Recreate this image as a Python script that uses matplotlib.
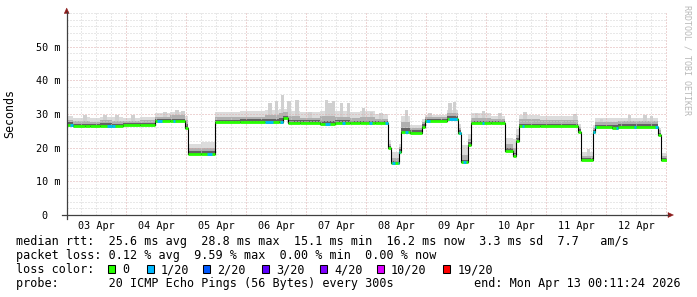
import numpy as np
import matplotlib
matplotlib.use('Agg')
import matplotlib.pyplot as plt
from matplotlib.patches import Polygon, Rectangle
from matplotlib.lines import Line2D

# ---------------- data (hours since 03 Apr 00:00, values in ms) ----------------
t_start, t_end = 0.19, 240.19
seg_start = [0.19, 2.8, 7.6, 9.6, 13.6, 18.4, 22.8, 29.6, 35.6, 41.6, 47.6, 48.8, 54.0,
             59.6, 69.6, 79.6, 85.2, 86.8, 88.8, 93.6, 101.6, 107.6, 113.6, 117.6, 123.6,
             128.8, 130.0, 133.2, 134.0, 137.6, 142.4, 143.6, 152.4, 156.8, 158.0, 160.8,
             162.0, 170.0, 175.6, 178.8, 180.0, 181.2, 189.6, 204.8, 206.0, 210.8, 211.6,
             218.4, 220.8, 236.8, 238.0]
median = [26.8, 26.4, 26.4, 26.4, 26.4, 26.4, 26.7, 26.7, 27.9, 27.9, 25.7, 18.2, 18.2,
          27.7, 27.7, 27.7, 27.7, 28.8, 27.4, 27.4, 27.0, 27.4, 27.4, 27.2, 27.2, 19.8,
          15.3, 18.8, 24.7, 24.5, 26.2, 28.0, 28.6, 24.3, 15.7, 20.8, 27.3, 27.3, 19.0,
          17.4, 22.1, 26.3, 26.3, 24.7, 16.4, 24.6, 26.2, 25.9, 26.2, 23.8, 16.3]
smoke_dark = [27.5, 27.1, 27.1, 27.1, 27.2, 27.1, 27.4, 27.4, 28.5, 28.6, 26.9, 18.9, 18.9,
              28.3, 28.4, 28.5, 28.7, 29.4, 28.2, 28.1, 27.9, 28.1, 28.0, 27.9, 27.8, 20.5,
              16.0, 19.7, 25.8, 25.1, 26.9, 28.6, 29.4, 25.1, 16.4, 21.6, 27.9, 27.9, 19.9,
              18.3, 22.9, 27.1, 26.9, 25.4, 16.9, 25.3, 26.8, 26.6, 26.9, 24.5, 16.9]
smoke_mid = [28.3, 27.8, 28.0, 27.7, 28.1, 27.9, 27.9, 28.1, 29.1, 29.6, 28.3, 19.8, 20.0,
             29.0, 29.2, 29.6, 30.2, 30.5, 29.4, 28.9, 29.4, 29.2, 28.7, 29.1, 28.5, 21.2,
             16.9, 20.3, 27.5, 25.7, 27.6, 29.0, 30.4, 25.9, 17.9, 22.6, 28.8, 28.5, 21.1,
             19.8, 23.8, 28.4, 28.1, 26.1, 17.5, 25.9, 27.6, 27.5, 27.8, 25.2, 17.5]
smoke_top = [29.5, 28.7, 29.2, 28.7, 29.2, 29.0, 28.8, 29.2, 30.2, 30.6, 29.5, 21.0, 21.6,
             30.5, 30.8, 31.2, 31.5, 31.5, 31.0, 30.6, 31.0, 31.0, 30.5, 31.0, 30.0, 22.3,
             18.8, 21.2, 29.5, 26.8, 28.5, 29.8, 31.2, 27.0, 20.8, 24.0, 30.2, 29.5, 23.0,
             22.5, 25.5, 29.8, 29.4, 27.0, 18.8, 26.6, 28.8, 28.8, 28.9, 25.8, 18.4]
spike_hour = [7.6, 15.6, 20.4, 26.8, 39.6, 44.4, 46.8, 81.6, 84.2, 86.6, 89.2, 92.4, 97.6,
              104.2, 105.6, 107.0, 110.2, 113.0, 119.0, 122.2, 126.0, 136.2, 145.6, 153.6,
              155.4, 164.2, 167.0, 173.6, 183.6, 203.6, 209.0, 214.2, 225.4, 231.6, 234.2]
spike_top = [29.7, 29.7, 29.6, 29.6, 30.7, 31.3, 30.8, 33.3, 33.8, 35.7, 33.8, 34.2, 30.6,
             34.2, 33.3, 33.8, 33.3, 33.3, 31.8, 30.6, 30.4, 31.2, 30.4, 33.2, 33.6, 30.2,
             30.9, 30.2, 30.7, 29.9, 19.5, 28.4, 29.6, 29.6, 29.4]
loss1_start = [1.6, 16.4, 36.4, 42.8, 56.4, 79.6, 85.6, 103.6, 110.4, 121.2, 127.6, 130.4,
               132.8, 135.6, 144.0, 153.2, 157.2, 158.8, 166.4, 182.4, 210.8, 220.0, 227.2, 235.6]
loss1_end = [2.7, 19.6, 38.4, 43.6, 58.4, 82.8, 86.6, 105.6, 111.6, 122.2, 128.8, 131.6,
             133.6, 136.8, 145.6, 156.4, 157.8, 160.0, 167.2, 183.2, 212.0, 220.8, 228.0, 236.8]

day_labels = ['03 Apr', '04 Apr', '05 Apr', '06 Apr', '07 Apr',
              '08 Apr', '09 Apr', '10 Apr', '11 Apr', '12 Apr']
ytick_vals = [0, 10, 20, 30, 40, 50]
ytick_labels = ['0', '10 m', '20 m', '30 m', '40 m', '50 m']

loss_labels = ['0', '1/20', '2/20', '3/20', '4/20', '10/20', '19/20']
loss_colors = ['#26ff00', '#00b8ff', '#0059ff', '#5e00ff', '#7e00ff', '#dd00ff', '#ff0000']

line1 = "median rtt:  25.6 ms avg  28.8 ms max  15.1 ms min  16.2 ms now  3.3 ms sd  7.7   am/s"
line2 = "packet loss: 0.12 % avg  9.59 % max  0.00 % min  0.00 % now"
line3 = "loss color:"
line4 = "probe:       20 ICMP Echo Pings (56 Bytes) every 300s"
end_text = "end: Mon Apr 13 00:11:24 2026"

# ---------------- figure ----------------
W, H = 697, 297
fig = plt.figure(figsize=(W / 100, H / 100), dpi=100)
fig.patch.set_facecolor('white')
MONO = 'DejaVu Sans Mono'

L, R, B, T = 66.5, 666.5, 215.0, 13.0
ax = fig.add_axes([L / W, 1 - B / H, (R - L) / W, (B - T) / H])
ax.set_facecolor('white')
ax.set_xlim(t_start, t_end)
ax.set_ylim(0, 60)
for s in ax.spines.values():
    s.set_visible(False)


def fp(x, y):
    return (x / W, 1 - y / H)


# grid (drawn over the smoke, as rrdtool does)
minor_c = '#d2d2d2'
major_c = '#dcaaaa'
dot = (0, (1, 2))
for v in range(2, 61, 2):
    c = major_c if (v % 10 == 0 and v < 60) else minor_c
    ax.axhline(v, color=c, lw=0.72, ls=dot, zorder=3)
for h in range(6, 241, 6):
    c = major_c if h % 24 == 0 else minor_c
    ax.axvline(h, color=c, lw=0.72, ls=dot, zorder=3)

# smoke and median
seg_start_a = np.array(seg_start)
median_a = np.array(median)
xs = np.append(seg_start_a, t_end)
med_e = np.append(median_a, median_a[-1])
ax.fill_between(xs, med_e, np.append(smoke_top, smoke_top[-1]), step='post',
                color='#dcdcdc', lw=0, zorder=2)
spike_base = median_a[np.searchsorted(seg_start_a, spike_hour, side='right') - 1]
ax.bar(spike_hour, np.array(spike_top) - spike_base, bottom=spike_base, width=1.3,
       color='#d0d0d0', lw=0, zorder=2)
ax.fill_between(xs, med_e, np.append(smoke_mid, smoke_mid[-1]), step='post',
                color='#b0b0b0', lw=0, zorder=2)
ax.fill_between(xs, med_e, np.append(smoke_dark, smoke_dark[-1]), step='post',
                color='#626262', lw=0, zorder=2)
ax.step(xs, med_e, where='post', color='black', lw=0.8, zorder=4)

seg_end = np.append(seg_start_a[1:], t_end)
ax.hlines(median_a, seg_start_a, seg_end, color=loss_colors[0], lw=2.0,
          capstyle='butt', zorder=5)
for a, b in zip(loss1_start, loss1_end):
    for s0, s1, m in zip(seg_start_a, seg_end, median_a):
        lo, hi = max(a, s0), min(b, s1)
        if hi > lo:
            ax.hlines(m, lo, hi, color=loss_colors[1], lw=2.0, capstyle='butt', zorder=6)

# ticks
ax.set_xticks([12 + 24 * k for k in range(len(day_labels))])
ax.set_xticklabels(day_labels, fontfamily=MONO, fontsize=7.3)
ax.set_yticks(ytick_vals)
ax.set_yticklabels(ytick_labels, fontfamily=MONO, fontsize=7.3)
ax.tick_params(axis='both', length=0)
ax.tick_params(axis='x', pad=4.0)
ax.tick_params(axis='y', pad=4.6)
ax.yaxis.get_major_ticks()[0].set_pad(13.6)

# axis lines and arrows
axis_c = '#404040'
arrow_c = '#8b1a1a'
fig.add_artist(Line2D([fp(L, 0)[0], fp(L, 0)[0]], [fp(0, 219)[1], fp(0, 12)[1]],
                      color=axis_c, lw=0.9))
fig.add_artist(Line2D([fp(62, 0)[0], fp(668, 0)[0]], [fp(0, B)[1], fp(0, B)[1]],
                      color=axis_c, lw=0.9))
fig.add_artist(Polygon([fp(64.2, 13.5), fp(69.2, 13.5), fp(66.7, 8.0)], closed=True,
                       facecolor=arrow_c, edgecolor=arrow_c, lw=0.3))
fig.add_artist(Polygon([fp(668, 212.5), fp(668, 217.5), fp(673.5, 215)], closed=True,
                       facecolor=arrow_c, edgecolor=arrow_c, lw=0.3))

# labels
fig.text(*fp(10, 114), 'Seconds', rotation=90, ha='center', va='center',
         fontfamily=MONO, fontsize=8.4)
fig.text(*fp(687.5, 5), 'RRDTOOL / TOBI OETIKER', rotation=270, ha='center', va='top',
         fontfamily=MONO, fontsize=6.0, color='#b8b8b8')

# legend
fs = 8.5
fig.text(*fp(15.5, 245.3), line1, fontfamily=MONO, fontsize=fs, va='baseline')
fig.text(*fp(15.5, 259.3), line2, fontfamily=MONO, fontsize=fs, va='baseline')
fig.text(*fp(15.5, 273.3), line3, fontfamily=MONO, fontsize=fs, va='baseline')
fig.text(*fp(15.5, 287.3), line4, fontfamily=MONO, fontsize=fs, va='baseline')
fig.text(*fp(681, 287.3), end_text, fontfamily=MONO, fontsize=fs, va='baseline', ha='right')

box_x = [108.3, 146.7, 203.3, 261.7, 320.0, 376.7, 443.3]
for bx, lab, col in zip(box_x, loss_labels, loss_colors):
    x0, y0 = fp(bx, 272.7)
    fig.add_artist(Rectangle((x0, y0), 7 / W, 8 / H, facecolor=col,
                             edgecolor='black', lw=0.75))
    fig.text(*fp(bx + 14.0, 273.3), lab, fontfamily=MONO, fontsize=fs, va='baseline')

fig.savefig('out.png', dpi=100, facecolor='white')
